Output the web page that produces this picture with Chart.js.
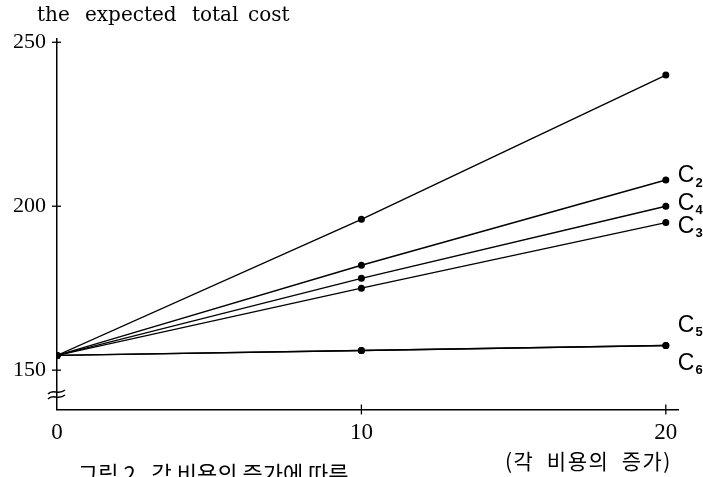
<!DOCTYPE html>
<html>
<head>
<meta charset="utf-8">
<script src="https://cdn.jsdelivr.net/npm/chart.js@4/dist/chart.umd.min.js"></script>
<style>
  body { margin: 0; background: #fff; }
  canvas { display: block; }
</style>
</head>
<body>
<canvas id="mycanvas" width="703" height="477"></canvas>
<script>
// cost increase (x) and expected total cost per case
var xValues = [0, 10, 20];
var c1 = [154.5, 196, 240];
var c2 = [154.5, 182, 208];
var c4 = [154.5, 178, 200];
var c3 = [154.5, 175, 195];
var c5 = [154.5, 156, 157.5];
var c6 = [154.5, 156, 157.5];
var yTicks = [150, 200, 250];
var xTicks = [0, 10, 20];

function pts(ys) {
    var out = [];
    for (var i in xValues) {
        out.push({ x: xValues[i], y: ys[i] });
    }
    return out;
}

function line(label, ys) {
    return {
        label: label,
        data: pts(ys),
        showLine: true,
        borderColor: '#000',
        backgroundColor: '#000',
        borderWidth: 1.4,
        pointRadius: 2.8,
        pointHoverRadius: 2.8
    };
}

// subscript labels like C2
function cLabel(ctx, sub, x, y) {
    ctx.font = '23px "Liberation Sans"';
    ctx.textAlign = 'left';
    ctx.textBaseline = 'middle';
    ctx.fillText('C', x, y);
    var w = ctx.measureText('C').width;
    ctx.font = 'bold 13px "Liberation Sans"';
    ctx.fillText(sub, x + w + 1, y + 7);
}

var extras = {
    id: 'extras',
    afterDraw: function (chart) {
        var ctx = chart.ctx;
        var xs = chart.scales.x;
        var ys = chart.scales.y;
        var ax = xs.getPixelForValue(0);
        var ay = ys.bottom;
        ctx.save();
        ctx.fillStyle = '#000';
        ctx.strokeStyle = '#000';

        // title
        ctx.font = '20px "DejaVu Serif"';
        ctx.textBaseline = 'middle';
        ctx.textAlign = 'left';
        var words = [['the', 37], ['expected', 85], ['total', 192], ['cost', 248]];
        words.forEach(function (w) { ctx.fillText(w[0], w[1], 16); });

        // tick crosses
        ctx.lineWidth = 1.3;
        yTicks.forEach(function (v) {
            var py = ys.getPixelForValue(v);
            ctx.beginPath();
            ctx.moveTo(ax - 5, py);
            ctx.lineTo(ax + 4, py);
            ctx.stroke();
        });
        xTicks.slice(1).forEach(function (v) {
            var px = xs.getPixelForValue(v);
            ctx.beginPath();
            ctx.moveTo(px, ay - 5);
            ctx.lineTo(px, ay + 5);
            ctx.stroke();
        });

        // axis break mark
        ctx.lineWidth = 1.4;
        for (var k = 0; k < 2; k++) {
            var by = 392 + k * 5;
            ctx.beginPath();
            ctx.moveTo(ax - 9, by + 2);
            ctx.bezierCurveTo(ax - 4, by - 4, ax + 1, by + 4, ax + 8, by - 2);
            ctx.stroke();
        }

        // series labels
        var rx = xs.getPixelForValue(20) + 12;
        cLabel(ctx, '2', rx, ys.getPixelForValue(c2[2]) - 4);
        cLabel(ctx, '4', rx, ys.getPixelForValue(c4[2]) - 3);
        cLabel(ctx, '3', rx, ys.getPixelForValue(c3[2]) + 4);
        cLabel(ctx, '5', rx, ys.getPixelForValue(c5[2]) - 20);
        cLabel(ctx, '6', rx, ys.getPixelForValue(c6[2]) + 18);

        // x axis title and caption
        ctx.font = '21px "Noto Sans CJK KR"';
        ctx.textAlign = 'left';
        ctx.textBaseline = 'middle';
        ctx.letterSpacing = '1.5px';
        ctx.fillText('(각  비용의  증가)', 505, 461);
        ctx.letterSpacing = '0px';
        ctx.font = '22px "Noto Sans CJK KR"';
        ctx.fillText('그림 2.  각 비용의 증가에 따른', 78, 474);
        ctx.restore();
    }
};

var ctx = document.getElementById('mycanvas');

var lineGraph = new Chart(ctx, {
    type: 'scatter',
    data: {
        datasets: [
            line('C1', c1),
            line('C2', c2),
            line('C4', c4),
            line('C3', c3),
            line('C5', c5),
            line('C6', c6)
        ]
    },
    options: {
        responsive: false,
        animation: false,
        layout: { padding: { top: 39, right: 25, left: 0, bottom: 0 } },
        plugins: {
            legend: { display: false },
            tooltip: { enabled: false }
        },
        scales: {
            x: {
                type: 'linear',
                min: 0,
                max: 20.4,
                grid: { display: false },
                border: { display: true, color: '#000', width: 1.5 },
                afterBuildTicks: function (scale) {
                    scale.ticks = xTicks.map(function (v) { return { value: v }; });
                },
                afterFit: function (scale) { scale.height = 67.5; },
                ticks: {
                    color: '#000',
                    padding: 2,
                    maxRotation: 0,
                    font: { family: '"Liberation Serif"', size: 23 }
                }
            },
            y: {
                type: 'linear',
                min: 138,
                max: 251,
                grid: { display: false },
                border: { display: true, color: '#000', width: 1.5 },
                afterBuildTicks: function (scale) {
                    scale.ticks = yTicks.map(function (v) { return { value: v }; });
                },
                afterFit: function (scale) { scale.width = 57; },
                ticks: {
                    color: '#000',
                    padding: 3,
                    font: { family: '"Liberation Serif"', size: 22 }
                }
            }
        }
    },
    plugins: [extras]
});
</script>
</body>
</html>
